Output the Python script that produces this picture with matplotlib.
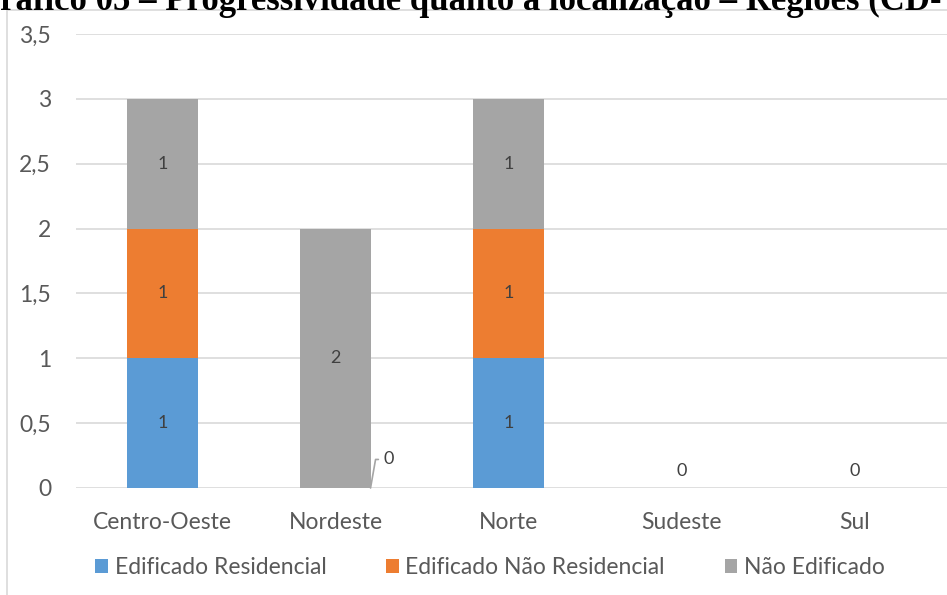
import numpy as np
import matplotlib.pyplot as plt
import matplotlib.patches as mpatches

# data
regioes = ['Centro-Oeste', 'Nordeste', 'Norte', 'Sudeste', 'Sul']
edificado_res = [1, 0, 1, 0, 0]
edificado_nao_res = [1, 0, 1, 0, 0]
nao_edificado = [1, 2, 1, 0, 0]
series_names = ['Edificado Residencial', 'Edificado Não Residencial', 'Não Edificado']
cores = ['#5B9BD5', '#ED7D31', '#A5A5A5']

plt.rcParams['font.family'] = ['Lato', 'DejaVu Sans']
txt = '#595959'

fig = plt.figure(figsize=(9.47, 5.95), dpi=100)
W, H = 947, 595

# outer chart frame (light grey, partly cropped)
fig.patches.append(mpatches.Rectangle((7 / W, -0.1), 2, 1 - 10 / H + 0.1,
                                      transform=fig.transFigure, fill=False,
                                      edgecolor='#D9D9D9', linewidth=1.2))

# caption above the chart (cropped at the top like the source)
fig.text(-27 / W, 1 - 10 / H,
         'Gráfico 05 – Progressividade quanto à localização – Regiões (CD- Área)',
         family='Liberation Serif', fontweight='bold', fontsize=25,
         ha='left', va='baseline', color='black')

ax = fig.add_axes([76 / W, 1 - 488 / H, (947 - 76) / W, (488 - 34) / H])
x = np.arange(len(regioes))
w = 0.405
bottom = np.zeros(len(regioes))
bars = []
for vals, nome, cor in zip([edificado_res, edificado_nao_res, nao_edificado], series_names, cores):
    b = ax.bar(x, vals, w, bottom=bottom, color=cor, label=nome, zorder=3)
    bars.append(b)
    for xi, v, b0 in zip(x, vals, bottom):
        if v > 0:
            ax.text(xi, b0 + v / 2, str(v), ha='center', va='center',
                    fontsize=13, color='#404040', zorder=4)
    bottom = bottom + np.array(vals)

# zero labels
ax.annotate('0', xy=(1 + w / 2, 0), xytext=(1.28, 0.22),
            ha='left', va='center', fontsize=13, color='#404040',
            arrowprops=dict(arrowstyle='-', color='#A5A5A5', lw=1.2,
                            shrinkA=2, shrinkB=0, relpos=(0, 0.5),
                            connectionstyle='angle,angleA=0,angleB=80,rad=0'))
for xi in [3, 4]:
    ax.text(xi, 0.13, '0', ha='center', va='center', fontsize=13, color='#404040')

ax.set_xlim(-0.5, -0.5 + (947 - 76) / 173)
ax.set_ylim(0, 3.5)
ax.set_yticks(np.arange(0, 3.51, 0.5))
ax.set_yticklabels(['0', '0,5', '1', '1,5', '2', '2,5', '3', '3,5'])
ax.set_xticks(x)
ax.set_xticklabels(regioes)
ax.tick_params(length=0, labelsize=16.5, colors=txt)
ax.tick_params(axis='y', pad=18)
ax.tick_params(axis='x', pad=17)
ax.grid(axis='y', color='#D9D9D9', linewidth=1.2, zorder=0)
for s in ax.spines.values():
    s.set_visible(False)

leg = fig.legend(handles=[b for b in bars], labels=series_names,
                 loc='center', bbox_to_anchor=(490 / W, 1 - 568 / H), ncol=3,
                 frameon=False, fontsize=16.5, handlelength=0.55, handleheight=0.55,
                 handletextpad=0.3, columnspacing=2.6)
for t in leg.get_texts():
    t.set_color(txt)

fig.savefig('out.png', dpi=100)
